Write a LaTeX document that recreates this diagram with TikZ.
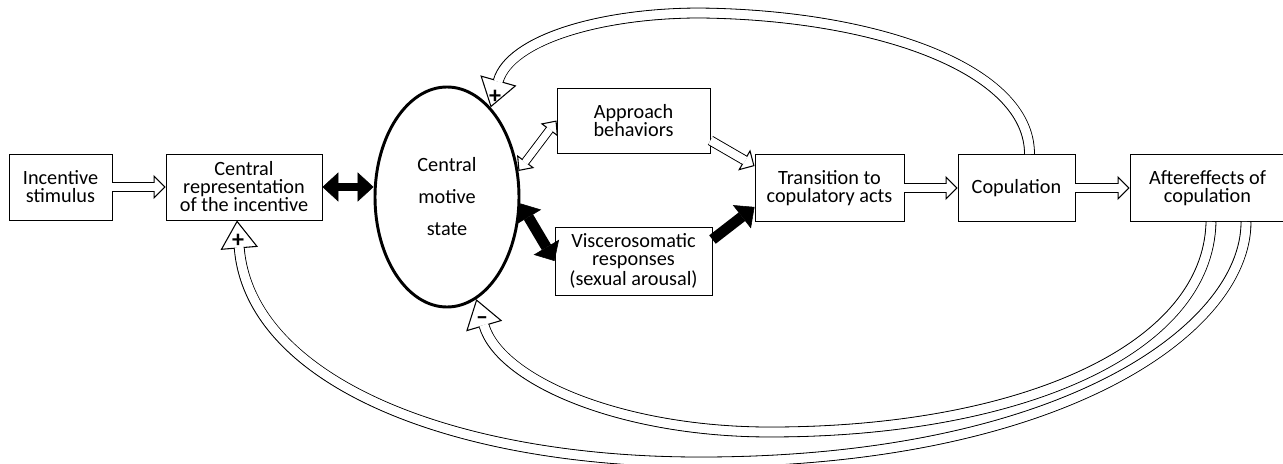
\documentclass[tikz,border=0pt]{standalone}
\usepackage{fontspec}
\setmainfont{Carlito}
\usetikzlibrary{shapes.geometric,arrows.meta,calc}
\tikzset{
  box/.style={draw, line width=0.7pt, align=center, inner sep=1pt,
    font=\fontsize{15.2}{13.5}\selectfont},
  motive/.style={ellipse, draw, line width=2.2pt, inner sep=0pt, align=center,
    minimum width=108pt, minimum height=165pt,
    font=\fontsize{15.2}{24}\selectfont},
  sign/.style={font=\bfseries\fontsize{18}{18}\selectfont, inner sep=0pt},
  hollow/.style={draw, line width=0.8pt, double=white, double distance=6pt,
    -{Triangle[length=9pt,width=18pt,fill=white,line width=0.8pt]},
    postaction={draw=white, line width=6pt, -, shorten >=8pt, shorten <=0.5pt}},
  hollowboth/.style={draw, line width=0.8pt, double=white, double distance=5pt,
    {Triangle[length=9pt,width=16pt,fill=white,line width=0.8pt]}-{Triangle[length=9pt,width=16pt,fill=white,line width=0.8pt]},
    postaction={draw=white, line width=5pt, -, shorten >=8pt, shorten <=8pt}},
  feedback/.style={draw, line width=0.8pt, double=white, double distance=6.5pt,
    -{Triangle[length=21pt,width=28pt,fill=white,line width=0.8pt]},
    postaction={draw=white, line width=6.5pt, -, shorten >=20pt, shorten <=0.5pt}},
  blackarr/.style={draw, line width=8pt,
    -{Triangle[length=12pt,width=22pt,line width=0.4pt]}},
  blackboth/.style={draw, line width=#1,
    {Triangle[length=12pt,width=22pt,line width=0.4pt]}-{Triangle[length=12pt,width=22pt,line width=0.4pt]}},
}
\begin{document}
\begin{tikzpicture}[x=0.75pt,y=-0.75pt]
\useasboundingbox (0,0) rectangle (1283,464);
% boxes
\node[box, minimum width=77.25pt, minimum height=49.5pt] (inc) at (60.5,187) {Incentive\\stimulus};
\node[box, minimum width=117pt, minimum height=49.5pt] (cen) at (244,187) {Central\\representation\\of the incentive};
\node[motive] (ell) at (447,197) {Central\\motive\\state};
\node[box, minimum width=114.75pt, minimum height=48.75pt] (app) at (633.5,120.5) {Approach\\behaviors};
\node[box, minimum width=117.75pt, minimum height=51pt] (vis) at (633.5,261) {Viscerosomatic\\responses\\(sexual arousal)};
\node[box, minimum width=111.75pt, minimum height=50.25pt] (tra) at (829.5,188) {Transition to\\copulatory acts};
\node[box, minimum width=87.75pt, minimum height=50.25pt] (cop) at (1016.5,188) {Copulation};
\node[box, minimum width=116.25pt, minimum height=50.25pt] (aft) at (1207.5,188) {Aftereffects of\\copulation};
% forward arrows
\draw[hollow] (inc) -- (cen);
\draw[blackboth=6pt] (cen.east) -- (ell.west |- cen.east);
\draw[hollowboth] (ell.20) -- (app.west);
\draw[blackboth=8pt] (ell.-5) -- (vis.west);
\draw[hollow] ($(app.south east)+(0,-13)$) -- ($(tra.north west)+(0,12)$);
\draw[blackarr] ($(vis.north east)+(0,13)$) -- ($(tra.south west)+(0,-15)$);
\draw[hollow] (tra) -- (cop);
\draw[hollow] (cop) -- (aft);
% feedback loops
\draw[feedback] ($(cop.north)+(13,0)$) .. controls (1029.5,70) and (880,15) .. (700,13)
  .. controls (600,13) and (510,40) .. (ell.64);
\draw[feedback] ($(aft.south)+(3.5,0)$) .. controls (1208,350) and (1020,432) .. (770,432)
  .. controls (620,432) and (500,380) .. (ell.-74);
\draw[feedback] ($(aft.south)+(38.5,0)$) .. controls (1246,330) and (1060,462) .. (700,462)
  .. controls (450,462) and (250,380) .. ($(cen.south)+(-7,0)$);
\node[sign] at (495,97) {+};
\node[sign] at (482,321) {\textendash};
\node[sign] at (238,241) {+};
\end{tikzpicture}
\end{document}
